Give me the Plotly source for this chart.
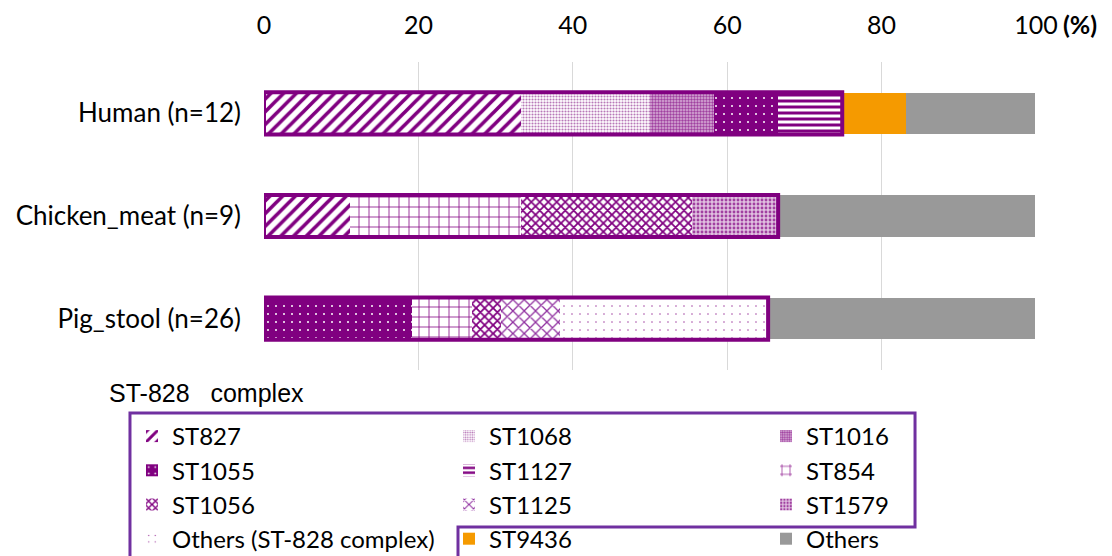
import plotly.graph_objects as go

categories = ["Human (n=12)", "Chicken_meat (n=9)", "Pig_stool (n=26)"]

# percentage of isolates per sequence type, per source
series_names = ["ST827", "ST1068", "ST1016", "ST1055", "ST1127", "ST854",
                "ST1056", "ST1125", "ST1579", "Others (ST-828 complex)",
                "ST9436", "Others"]
st827 = [33.3, 11.1, 0]
st1068 = [16.7, 0, 0]
st1016 = [8.3, 0, 0]
st1055 = [8.3, 0, 19.2]
st1127 = [8.3, 0, 0]
st854 = [0, 22.2, 7.7]
st1056 = [0, 22.2, 3.8]
st1125 = [0, 0, 7.7]
st1579 = [0, 11.1, 0]
others_complex = [0, 0, 26.9]
st9436 = [8.3, 0, 0]
others = [16.7, 33.3, 34.6]
complex_members = series_names[:10]

x_ticks = [0, 20, 40, 60, 80, 100]

values = [st827, st1068, st1016, st1055, st1127, st854, st1056, st1125,
          st1579, others_complex, st9436, others]

P = "#800080"
W = "#ffffff"
styles = {
    "ST827": dict(color=W, pattern=dict(shape="/", fgcolor=P, bgcolor=W, size=9, solidity=0.4, fillmode="replace")),
    "ST1068": dict(color=W, pattern=dict(shape=".", fgcolor="#b878b8", bgcolor=W, size=3, solidity=0.4, fillmode="replace")),
    "ST1016": dict(color=W, pattern=dict(shape=".", fgcolor="#a040a0", bgcolor="#d8b0d8", size=3, solidity=0.5, fillmode="replace")),
    "ST1055": dict(color=P, pattern=dict(shape=".", fgcolor=W, bgcolor=P, size=8, solidity=0.05, fillmode="replace")),
    "ST1127": dict(color=W, pattern=dict(shape="-", fgcolor=P, bgcolor=W, size=6, solidity=0.5, fillmode="replace")),
    "ST854": dict(color=W, pattern=dict(shape="+", fgcolor=P, bgcolor=W, size=10, solidity=0.15, fillmode="replace")),
    "ST1056": dict(color=W, pattern=dict(shape="x", fgcolor=P, bgcolor=W, size=6, solidity=0.5, fillmode="replace")),
    "ST1125": dict(color=W, pattern=dict(shape="x", fgcolor="#9030a0", bgcolor=W, size=8, solidity=0.3, fillmode="replace")),
    "ST1579": dict(color=W, pattern=dict(shape=".", fgcolor="#a040a0", bgcolor="#e0c0e0", size=4, solidity=0.4, fillmode="replace")),
    "Others (ST-828 complex)": dict(color=W, pattern=dict(shape=".", fgcolor="#a040a0", bgcolor=W, size=8, solidity=0.03, fillmode="replace")),
    "ST9436": dict(color="#f59a00"),
    "Others": dict(color="#999999"),
}

FONT = "Lato"
OFF = 8  # page body margin
W_FIG, H_FIG = 1112 - OFF, 556 - OFF
ML, MT = 264 - OFF, 62 - OFF
MR, MB = W_FIG - (1036 - OFF), H_FIG - (370 - OFF)
PW, PH = W_FIG - ML - MR, H_FIG - MT - MB


def px_x(px):
    return (px - OFF - ML) / PW


def px_y(py):
    return (H_FIG - MB - (py - OFF)) / PH


fig = go.Figure()
for name, vals in zip(series_names, values):
    st = styles[name]
    marker = dict(color=st["color"], line=dict(width=0))
    if "pattern" in st:
        marker["pattern"] = st["pattern"]
    fig.add_trace(go.Bar(
        y=categories, x=vals, name=name, orientation="h",
        marker=marker, width=0.4,
    ))

# purple outline around the ST-828 complex part of each bar
for i, cat in enumerate(categories):
    total = sum(values[series_names.index(n)][i] for n in complex_members)
    fig.add_shape(type="rect", xref="x", yref="y", x0=0, x1=total,
                  y0=i - 0.205, y1=i + 0.205,
                  line=dict(color=P, width=4), layer="above")

# frame around the ST-828 complex legend entries
pts = [(130, 570), (130, 413), (915, 413), (915, 527), (458, 527), (458, 570)]
path = "M " + " L ".join(f"{px_x(a):.4f},{px_y(b):.4f}" for a, b in pts)
fig.add_shape(type="path", xref="paper", yref="paper", path=path,
              line=dict(color="#7030a0", width=3))

fig.add_annotation(text="ST-828\u00a0\u00a0\u00a0complex", xref="paper", yref="paper",
                   x=px_x(107), y=px_y(393), xanchor="left", yanchor="middle",
                   showarrow=False, font=dict(family="Liberation Sans", size=25, color="#000"))
fig.add_annotation(text="<b>(%)</b>", xref="paper", yref="paper",
                   x=px_x(1061), y=px_y(24), xanchor="left", yanchor="middle",
                   showarrow=False, font=dict(family=FONT, size=25, color="#000"))

fig.update_layout(
    width=W_FIG, height=H_FIG,
    margin=dict(l=ML, r=MR, t=MT, b=MB, autoexpand=False),
    barmode="stack",
    plot_bgcolor="white", paper_bgcolor="white",
    font=dict(family=FONT, size=22, color="#000"),
    xaxis=dict(side="top", range=[0, 100], tickvals=x_ticks, showgrid=True,
               gridcolor="#d9d9d9", gridwidth=1, zeroline=False, showline=False,
               tickfont=dict(size=25), ticks="", ticklabelstandoff=22),
    yaxis=dict(autorange="reversed", showgrid=False, showline=False, ticks="",
               tickfont=dict(size=26), ticklabelstandoff=22),
    legend=dict(orientation="h", x=px_x(132), xanchor="left", y=px_y(414), yanchor="top",
                entrywidth=272, entrywidthmode="pixels", traceorder="normal",
                font=dict(family=FONT, size=24), bgcolor="rgba(0,0,0,0)"),
    showlegend=True,
)

fig.write_html("out.html")
